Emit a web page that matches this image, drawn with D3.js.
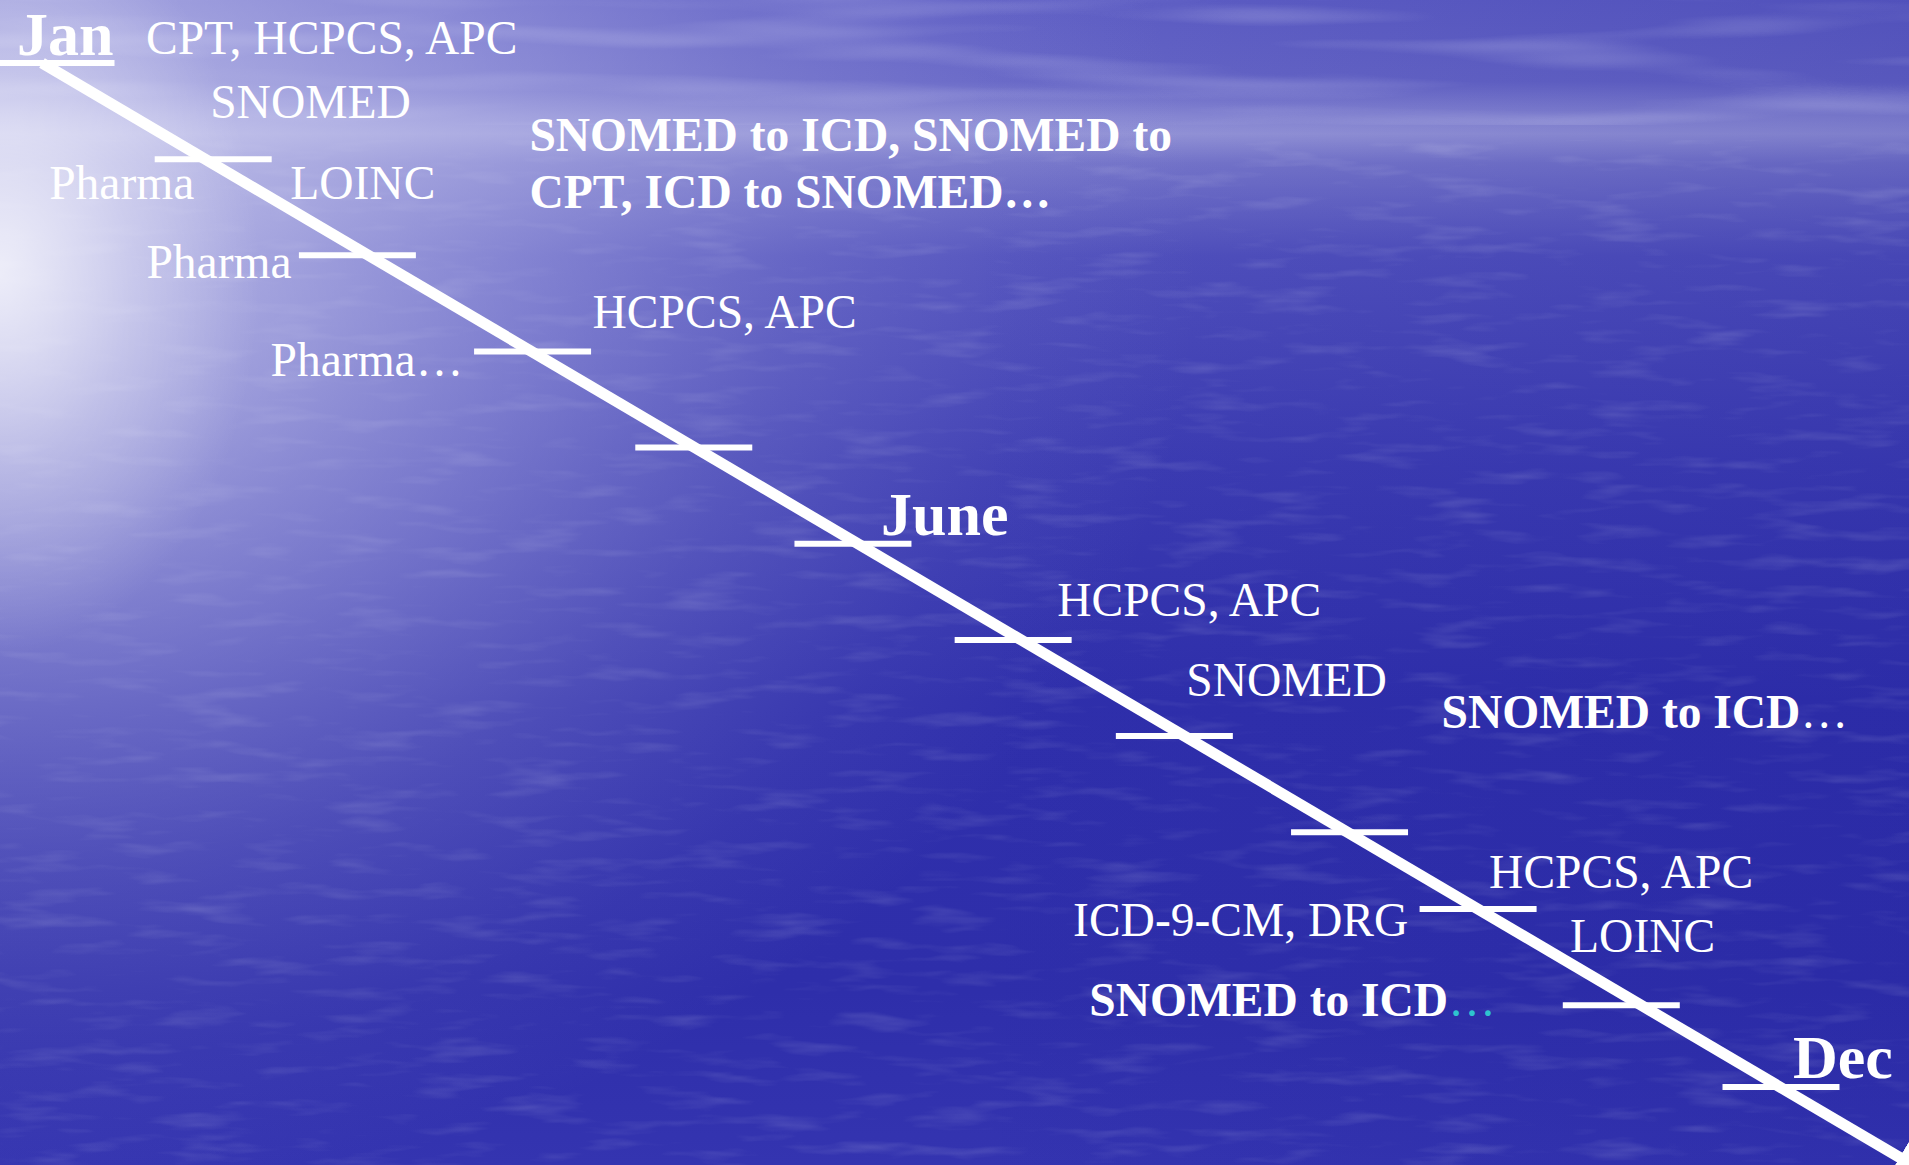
<!DOCTYPE html>
<html>
<head>
<meta charset="utf-8">
<script src="https://cdn.jsdelivr.net/npm/d3@7"></script>
<style>
  html, body { margin: 0; padding: 0; overflow: hidden; background: #2c2ca8; }
  svg { display: block; }
</style>
</head>
<body>
<div id="chart"></div>
<script>
// ---------------- DATA ----------------
const months = ["Jan", "Feb", "Mar", "Apr", "May", "June", "Jul", "Aug", "Sep", "Oct", "Nov", "Dec"];
// position of each month tick along the timeline (in month units, as drawn)
const monthPos = [0, 1, 2, 3, 4, 5, 6, 7, 8, 8.8, 9.8, 10.65];
const labelledMonths = ["Jan", "June", "Dec"];
const timelineEnd = 11.55;

// event labels: text pieces, month each belongs to
const eventMonth = ["Jan", "Feb", "Feb", "Feb", "Mar", "Mar", "Mar", "Apr", "Apr",
                    "Jul", "Aug", "Sep", "Oct", "Oct", "Oct", "Nov"];
const eventText = [
  [["CPT, HCPCS, APC", "n"]],
  [["SNOMED", "n"]],
  [["Pharma", "n"]],
  [["LOINC", "n"]],
  [["SNOMED to ICD, SNOMED to", "b"]],
  [["CPT, ICD to SNOMED\u2026", "b"]],
  [["Pharma", "n"]],
  [["Pharma\u2026", "n"]],
  [["HCPCS, APC", "n"]],
  [["HCPCS, APC", "n"]],
  [["SNOMED", "n"]],
  [["SNOMED to ICD", "b"], ["\u2026", "n"]],
  [["HCPCS, APC", "n"]],
  [["ICD-9-CM, DRG", "n"]],
  [["LOINC", "n"]],
  [["SNOMED to ICD", "b"], ["\u2026", "c"]]
];

// ---------------- LAYOUT (offsets from the month's point on the line) ----------------
const eventOffset = [
  [104, -9], [5, -41], [-156, 40], [85, 40], [161, -104], [161, -47], [-222, 23],
  [-261, 25], [61, -23], [36, -24], [2, -40], [94, -104], [11, -21], [-405, 27],
  [92, 43], [-552, 11]
];
const monthLabelOffset = [[-25, -8], [23, -9], [13, -9]];
const tickShift = [14, 8, -11, 1, -1, -5, -8, -10, 2, 0, -20, 1];

const W = 1909, H = 1165;
const svg = d3.select("#chart").append("svg").attr("width", W).attr("height", H);
const defs = svg.append("defs");

// background gradients
const base = defs.append("linearGradient").attr("id", "base").attr("x1", 0).attr("y1", 0).attr("x2", 0).attr("y2", 1);
[[0, "#5e5ec4"], [0.07, "#6666c6"], [0.1, "#8a8ad4"], [0.115, "#9696d8"], [0.14, "#7676ca"],
 [0.22, "#5050bc"], [0.4, "#3c3cb2"], [0.6, "#2f2fab"], [0.85, "#2e2eaa"], [1, "#3434b0"]]
  .forEach(([o, c]) => base.append("stop").attr("offset", o).attr("stop-color", c));

function radial(id, cx, cy, rx, ry, stops) {
  const g = defs.append("radialGradient").attr("id", id)
    .attr("gradientUnits", "userSpaceOnUse").attr("cx", 0).attr("cy", 0).attr("r", 1)
    .attr("gradientTransform", `translate(${cx},${cy}) scale(${rx},${ry})`);
  stops.forEach(([o, c, a]) => g.append("stop").attr("offset", o).attr("stop-color", c).attr("stop-opacity", a));
}
radial("glare", 0, 260, 1200, 950, [
  [0, "#e4e4f8", 0.78], [0.25, "#d4d4f2", 0.6], [0.45, "#c6c6ee", 0.42], [0.65, "#bcbce8", 0.22],
  [0.85, "#b0b0e4", 0.07], [1, "#b0b0e4", 0]]);
radial("core", 0, 275, 260, 380, [
  [0, "#ffffff", 0.7], [0.5, "#ffffff", 0.3], [1, "#ffffff", 0]]);

const rightDark = defs.append("linearGradient").attr("id", "rightDark").attr("x1", 0).attr("y1", 0).attr("x2", 1).attr("y2", 0);
[[0, 0], [0.5, 0], [1, 0.2]].forEach(([o, a]) => rightDark.append("stop").attr("offset", o).attr("stop-color", "#1e1e98").attr("stop-opacity", a));

const ripple = defs.append("filter").attr("id", "ripple").attr("x", 0).attr("y", 0).attr("width", "100%").attr("height", "100%");
ripple.append("feTurbulence").attr("type", "fractalNoise").attr("baseFrequency", "0.012 0.07").attr("numOctaves", 3).attr("seed", 7);
ripple.append("feColorMatrix").attr("type", "matrix").attr("values", "0 0 0 0 1  0 0 0 0 1  0 0 0 0 1  2.2 0 0 0 -1.15");

const sky = defs.append("filter").attr("id", "sky").attr("x", 0).attr("y", 0).attr("width", "100%").attr("height", "100%");
sky.append("feTurbulence").attr("type", "fractalNoise").attr("baseFrequency", "0.003 0.04").attr("numOctaves", 2).attr("seed", 2);
sky.append("feColorMatrix").attr("type", "matrix").attr("values", "0 0 0 0 0.85  0 0 0 0 0.85  0 0 0 0 1  2.0 0 0 0 -0.95");

svg.append("rect").attr("width", W).attr("height", H).attr("fill", "url(#base)");
svg.append("rect").attr("width", W).attr("height", H).attr("fill", "url(#rightDark)");
svg.append("rect").attr("y", 0).attr("width", W).attr("height", 125).attr("filter", "url(#sky)").attr("opacity", 0.28);
svg.append("rect").attr("y", 140).attr("width", W).attr("height", H - 140).attr("filter", "url(#ripple)").attr("opacity", 0.14);
svg.append("rect").attr("width", W).attr("height", H).attr("fill", "url(#glare)");
svg.append("rect").attr("width", W).attr("height", H).attr("fill", "url(#core)");

// ---------------- SCALES ----------------
const xScale = d3.scaleLinear().domain([0, 10.65]).range([42, 1780]);
const yScale = d3.scaleLinear().domain([0, 10.65]).range([63, 1087]);
const posOf = m => monthPos[months.indexOf(m)];

// arrow marker
defs.append("marker").attr("id", "arrow").attr("viewBox", "0 0 10 10")
  .attr("refX", 9).attr("refY", 5).attr("markerWidth", 3.2).attr("markerHeight", 3.2)
  .attr("orient", "auto").attr("markerUnits", "strokeWidth")
  .append("path").attr("d", "M0,0 L10,5 L0,10 z").attr("fill", "#ffffff");

// timeline
const line = d3.line().x(d => xScale(d)).y(d => yScale(d));
svg.append("path").datum([0, timelineEnd]).attr("d", line)
  .attr("stroke", "#ffffff").attr("stroke-width", 11).attr("fill", "none")
  .attr("marker-end", "url(#arrow)");

// month ticks
const tickLen = 117;
svg.append("g").selectAll("line").data(monthPos).join("line")
  .attr("x1", (d, i) => xScale(d) + tickShift[i] - tickLen / 2)
  .attr("x2", (d, i) => xScale(d) + tickShift[i] + tickLen / 2)
  .attr("y1", d => yScale(d)).attr("y2", d => yScale(d))
  .attr("stroke", "#ffffff").attr("stroke-width", 6);

const fontFamily = "'Liberation Serif', 'Times New Roman', Times, serif";

// month labels
svg.append("g").selectAll("text").data(labelledMonths).join("text")
  .attr("x", (d, i) => xScale(posOf(d)) + monthLabelOffset[i][0])
  .attr("y", (d, i) => yScale(posOf(d)) + monthLabelOffset[i][1])
  .attr("font-family", fontFamily).attr("font-weight", "bold").attr("font-size", 62)
  .attr("fill", "#ffffff").text(d => d);

// event labels
const ev = svg.append("g").selectAll("text").data(eventText).join("text")
  .attr("x", (d, i) => xScale(posOf(eventMonth[i])) + eventOffset[i][0])
  .attr("y", (d, i) => yScale(posOf(eventMonth[i])) + eventOffset[i][1])
  .attr("font-family", fontFamily).attr("font-size", 47.5).attr("fill", "#ffffff");
ev.selectAll("tspan").data(d => d).join("tspan")
  .attr("font-weight", d => d[1] === "b" ? "bold" : "normal")
  .attr("fill", d => d[1] === "c" ? "#2ec4cf" : "#ffffff")
  .text(d => d[0]);
</script>
</body>
</html>
